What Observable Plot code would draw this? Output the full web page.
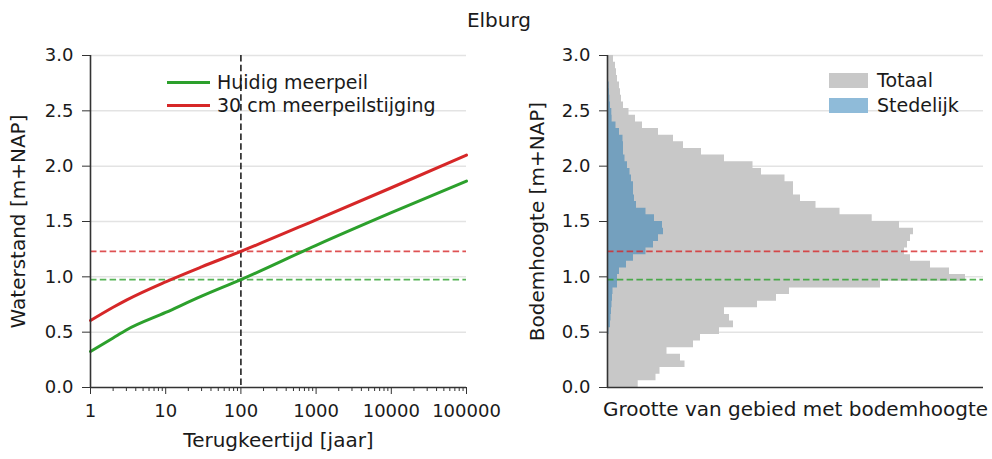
<!DOCTYPE html>
<html>
<head>
<meta charset="utf-8">
<script src="https://cdn.jsdelivr.net/npm/d3@7"></script>
<script src="https://cdn.jsdelivr.net/npm/@observablehq/plot@0.6"></script>
<style>
  body { margin: 0; background: #fff; }
  #fig { position: relative; width: 992px; height: 459px; background: #fff; font-family: "DejaVu Sans", sans-serif; color: #1a1a1a; overflow: hidden; }
  #title { position: absolute; left: 3px; top: 0; width: 992px; height: 40px; line-height: 40px; text-align: center; font-size: 20px; }
  .panel { position: absolute; top: 40px; }
  .leg { position: absolute; font-size: 19px; line-height: 22px; white-space: nowrap; }
  .sw-line { display: inline-block; width: 43px; height: 3px; vertical-align: middle; margin-right: 7px; position: relative; top: -1px; }
  .sw-box { display: inline-block; width: 39px; height: 15px; vertical-align: middle; margin-right: 9px; position: relative; top: -1px; }
</style>
</head>
<body>
<div id="fig">
  <div id="title">Elburg</div>
  <div id="left" class="panel" style="left:0"></div>
  <div id="right" class="panel" style="left:500px"></div>
  <div class="leg" style="left:167px; top:71px"><span class="sw-line" style="background:#2ca02c"></span>Huidig meerpeil</div>
  <div class="leg" style="left:167px; top:94px"><span class="sw-line" style="background:#d62728"></span>30 cm meerpeilstijging</div>
  <div class="leg" style="left:829px; top:69px"><span class="sw-box" style="background:#c8c8c8"></span>Totaal</div>
  <div class="leg" style="left:829px; top:94px"><span class="sw-box" style="background:#8fbbd9"></span>Stedelijk</div>
</div>
<script>
// ---- Data: water level vs return period ----
const terugkeertijd = [1, 2, 3, 10, 30, 100, 1000, 10000, 100000];
const huidigMeerpeil = [0.325, 0.448, 0.52, 0.678, 0.825, 0.975, 1.285, 1.58, 1.865];
const meerpeilstijging = [0.605, 0.725, 0.79, 0.955, 1.09, 1.23, 1.515, 1.805, 2.10];
const refT = 100;
const refHuidig = 0.975;
const refStijging = 1.23;

// ---- Data: histogram of ground level (bins of 0.06 m from 0 to 3 m) ----
const binWidth = 0.06;
const totaal = [30.7, 48.5, 52.5, 77.5, 73, 59.5, 86, 93, 112, 126,
                122, 117, 150, 169, 182, 273, 358, 342, 323, 303,
                297, 300, 303, 306, 292, 264.7, 232.5, 208.5, 193, 186,
                186, 177.5, 154, 145.5, 117, 94, 76, 66, 51, 35,
                28, 21.5, 16, 14, 13, 12, 10, 9, 8, 6];
const stedelijk = [0, 0, 0, 0, 0, 0, 0, 0, 1.5, 3,
                   3.5, 4, 4.5, 5, 5.5, 10, 10, 12, 19, 26,
                   38.5, 46, 51, 56, 55, 47, 38.5, 29, 27, 26,
                   26, 24, 22.5, 20, 17.5, 16, 16, 15.5, 12, 8.5,
                   4.6, 4.3, 3, 2.4, 2, 1.7, 0, 0, 0, 0];

const yTicks = [0, 0.5, 1.0, 1.5, 2.0, 2.5, 3.0];
const xMajor = [1, 10, 100, 1000, 10000, 100000];
const xMinor = [];
for (const dec of [1, 10, 100, 1000, 10000]) for (let k = 2; k <= 9; k++) xMinor.push(dec * k);

const lineData = terugkeertijd.flatMap((t, i) => [
  {t, v: huidigMeerpeil[i], s: "Huidig meerpeil"},
  {t, v: meerpeilstijging[i], s: "30 cm meerpeilstijging"}
]);
// stepped outline of each histogram: two points per bin (bottom and top edge)
const steps = (vals) => vals.flatMap((v, i) => [{y: i * binWidth, x: v}, {y: (i + 1) * binWidth, x: v}]);
const totaalSteps = steps(totaal);
const stedelijkSteps = steps(stedelijk);

const axisColor = "#333";
const font = "DejaVu Sans, sans-serif";
const dash = "6.5,3.3";

const left = Plot.plot({
  width: 500, height: 419,
  marginLeft: 90, marginRight: 34, marginTop: 15, marginBottom: 72,
  style: {fontFamily: font, fontSize: "18px", color: "#1a1a1a", background: "transparent", overflow: "visible"},
  x: {type: "log", domain: [1, 100000], label: null},
  y: {domain: [0, 3], label: null},
  marks: [
    Plot.gridY(yTicks.slice(1), {stroke: "#e3e3e3", strokeOpacity: 1, strokeWidth: 1.5}),
    Plot.ruleY([refStijging], {stroke: "#d62728", strokeOpacity: 0.8, strokeWidth: 1.8, strokeDasharray: dash}),
    Plot.ruleY([refHuidig], {stroke: "#2ca02c", strokeOpacity: 0.8, strokeWidth: 1.8, strokeDasharray: dash}),
    Plot.ruleX([refT], {stroke: "#222", strokeWidth: 1.6, strokeDasharray: dash}),
    Plot.line(lineData, {x: "t", y: "v", z: "s", stroke: d => d.s === "Huidig meerpeil" ? "#2ca02c" : "#d62728", strokeWidth: 3, curve: "monotone-x"}),
    Plot.ruleX([1], {stroke: axisColor, strokeWidth: 1.6}),
    Plot.ruleY([0], {stroke: axisColor, strokeWidth: 1.6}),
    Plot.axisY(yTicks, {tickFormat: d3.format(".1f"), tickSize: 8, tickPadding: 9, stroke: axisColor, fontSize: 18, label: null}),
    Plot.axisX(xMajor, {tickFormat: d => String(d), tickSize: 7, tickPadding: 10, stroke: axisColor, fontSize: 18, label: null}),
    Plot.axisX(xMinor, {tickFormat: () => "", tickSize: 4, stroke: axisColor, label: null}),
    Plot.text(["Waterstand [m+NAP]"], {frameAnchor: "left", textAnchor: "middle", rotate: -90, dx: -72, fontSize: 20, lineAnchor: "middle", fill: "#1a1a1a"}),
    Plot.text(["Terugkeertijd [jaar]"], {frameAnchor: "bottom", textAnchor: "middle", dy: 53, fontSize: 20, lineAnchor: "middle", fill: "#1a1a1a"})
  ]
});
document.getElementById("left").appendChild(left);

const right = Plot.plot({
  width: 492, height: 419,
  marginLeft: 107, marginRight: 9, marginTop: 15, marginBottom: 72,
  style: {fontFamily: font, fontSize: "18px", color: "#1a1a1a", background: "transparent", overflow: "visible"},
  x: {domain: [0, 376], label: null, axis: null},
  y: {domain: [0, 3], label: null},
  marks: [
    Plot.gridY(yTicks.slice(1), {stroke: "#e3e3e3", strokeOpacity: 1, strokeWidth: 1.5}),
    Plot.areaX(totaalSteps, {x1: 0, x2: "x", y: "y", fill: "#c8c8c8", curve: "linear"}),
    Plot.areaX(stedelijkSteps, {x1: 0, x2: "x", y: "y", fill: "#1f77b4", fillOpacity: 0.5, curve: "linear"}),
    Plot.ruleY([refStijging], {stroke: "#d62728", strokeOpacity: 0.8, strokeWidth: 1.8, strokeDasharray: dash}),
    Plot.ruleY([refHuidig], {stroke: "#2ca02c", strokeOpacity: 0.8, strokeWidth: 1.8, strokeDasharray: dash}),
    Plot.ruleX([0], {stroke: axisColor, strokeWidth: 1.6}),
    Plot.ruleY([0], {stroke: axisColor, strokeWidth: 1.6}),
    Plot.axisY(yTicks, {tickFormat: d3.format(".1f"), tickSize: 8, tickPadding: 9, stroke: axisColor, fontSize: 18, label: null}),
    Plot.text(["Bodemhoogte [m+NAP]"], {frameAnchor: "left", textAnchor: "middle", rotate: -90, dx: -70, fontSize: 20, lineAnchor: "middle", fill: "#1a1a1a"}),
    Plot.text(["Grootte van gebied met bodemhoogte"], {frameAnchor: "bottom", textAnchor: "middle", dy: 22, fontSize: 20, lineAnchor: "middle", fill: "#1a1a1a"})
  ]
});
document.getElementById("right").appendChild(right);
</script>
</body>
</html>
